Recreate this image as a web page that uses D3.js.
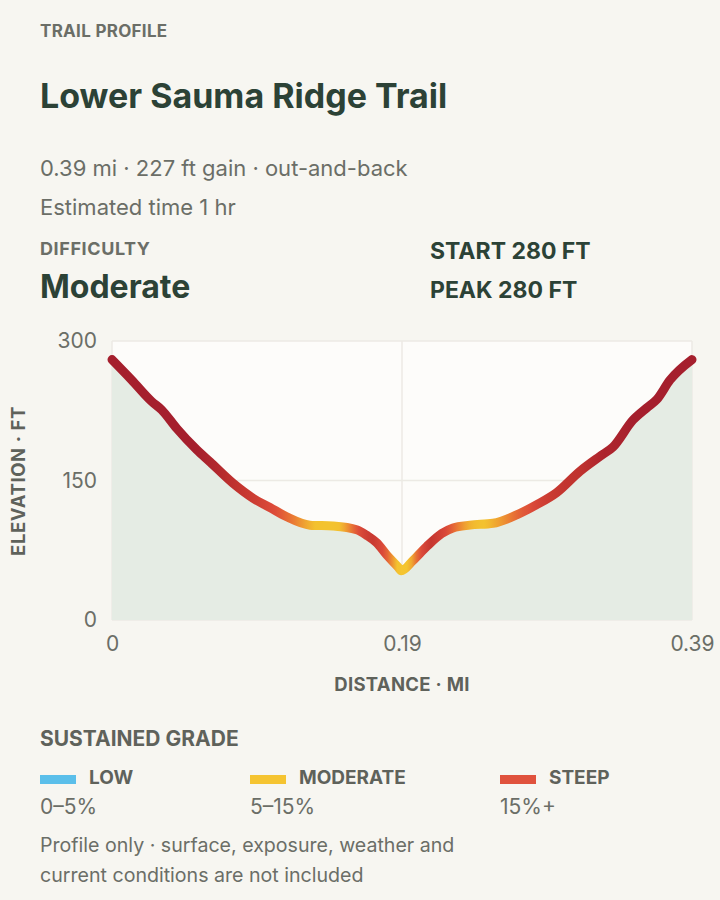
<!DOCTYPE html>
<html>
<head>
<meta charset="utf-8">
<script src="https://cdn.jsdelivr.net/npm/d3@7"></script>
<style>
  html, body { margin: 0; padding: 0; background: #f7f6f1; }
  svg { display: block; font-family: Inter, "Noto Sans", sans-serif; }
</style>
</head>
<body>
<svg id="chart" width="720" height="900"></svg>
<script>
// ---- data ----
const distMi = [0, 0.0133, 0.0267, 0.0334, 0.0435, 0.0570, 0.0659, 0.0814, 0.0948, 0.1062, 0.1175,
  0.1331, 0.1486, 0.1645, 0.1713, 0.1780, 0.1847, 0.1923, 0.1945, 0.2024, 0.2116, 0.2217, 0.2293,
  0.2407, 0.2562, 0.2721, 0.2856, 0.2990, 0.3147, 0.3281, 0.3369, 0.3503, 0.3595, 0.3663, 0.3752, 0.39];
const elevFt = [280, 258, 235, 226, 206, 183, 170, 147, 131, 121, 111,
  102, 101, 97, 91, 83, 70, 57, 53, 64, 79, 93, 99,
  102, 104, 113, 124, 137, 160, 176, 186, 215, 228, 237, 258, 280];
const yTicks = [0, 150, 300];
const xTicks = [0, 0.195, 0.39];
const xTickLabels = ["0", "0.19", "0.39"];
const gradeNames = ["LOW", "MODERATE", "STEEP"];
const gradeRanges = ["0–5%", "5–15%", "15%+"];
const gradeColors = ["#5bbfea", "#f5c431", "#e0523d"];

// ---- layout ----
const svg = d3.select("#chart");
const W = 720, H = 900;
const plot = { left: 112, right: 692, top: 341, bottom: 620 };
const ink = "#2c4236", gray = "#6b6e67", gray2 = "#5f625b";

svg.append("rect").attr("width", W).attr("height", H).attr("fill", "#f7f6f1");

const txt = (x, y, s, size, weight, fill, anchor, ls) =>
  svg.append("text").attr("x", x).attr("y", y).text(s)
    .attr("font-size", size).attr("font-weight", weight).attr("fill", fill)
    .attr("letter-spacing", ls || 0)
    .attr("text-anchor", anchor || "start");

txt(40, 37, "TRAIL PROFILE", 17, 700, gray, "start", 0.3);
txt(40, 108, "Lower Sauma Ridge Trail", 34, 700, ink);
txt(40, 176, "0.39 mi · 227 ft gain · out-and-back", 22, 400, gray);
txt(40, 215, "Estimated time 1 hr", 22, 400, gray);
txt(40, 255, "DIFFICULTY", 18, 700, gray, "start", 0.6);
txt(40, 298, "Moderate", 32, 700, ink);
txt(430, 259, "START 280 FT", 23, 700, ink);
txt(430, 298, "PEAK 280 FT", 23, 700, ink);

// ---- scales ----
const maxD = d3.max(distMi);
const x = d3.scaleLinear().domain([0, maxD]).range([plot.left, plot.right]);
const y = d3.scaleLinear().domain([0, 300]).range([plot.bottom, plot.top]);
const pts = distMi.map((d, i) => ({ d, e: elevFt[i] }));

svg.append("rect").attr("x", plot.left).attr("y", plot.top)
  .attr("width", plot.right - plot.left).attr("height", plot.bottom - plot.top)
  .attr("fill", "#fdfcfa");

svg.append("g").selectAll("line").data(yTicks).join("line")
  .attr("x1", plot.left).attr("x2", plot.right)
  .attr("y1", d => y(d)).attr("y2", d => y(d))
  .attr("stroke", "#eceae4").attr("stroke-width", 1.5);
svg.append("g").selectAll("line").data(xTicks).join("line")
  .attr("y1", plot.top).attr("y2", plot.bottom)
  .attr("x1", d => x(d)).attr("x2", d => x(d))
  .attr("stroke", "#eceae4").attr("stroke-width", 1.5);

const area = d3.area().x(p => x(p.d)).y0(y(0)).y1(p => y(p.e)).curve(d3.curveMonotoneX);
svg.append("path").datum(pts).attr("d", area).attr("fill", "#e5ece4");

// sustained grade: elevation change over a ±window (mi) around each position
const elevAt = d3.scaleLinear().domain(distMi).range(elevFt);
const win = 0.02;
const sustainedGrade = d => {
  const a = Math.max(0, d - win), b = Math.min(maxD, d + win);
  return Math.abs(elevAt(b) - elevAt(a)) / ((b - a) * 5280);
};
const gradeColor = d3.scaleLinear()
  .domain([0, 0.06, 0.11, 0.16, 0.23, 0.31])
  .range(["#f5c631", "#f3c22f", "#ea7a34", "#dc4a3a", "#c3352f", "#a51f2d"])
  .clamp(true);

const stops = d3.range(0, 121).map(i => maxD * i / 120);
const grad = svg.append("defs").append("linearGradient").attr("id", "gradeGrad")
  .attr("gradientUnits", "userSpaceOnUse")
  .attr("x1", x(0)).attr("x2", x(maxD)).attr("y1", 0).attr("y2", 0);
grad.selectAll("stop").data(stops).join("stop")
  .attr("offset", d => d / maxD)
  .attr("stop-color", d => gradeColor(sustainedGrade(d)));

const line = d3.line().x(p => x(p.d)).y(p => y(p.e)).curve(d3.curveMonotoneX);
svg.append("path").datum(pts).attr("d", line)
  .attr("fill", "none").attr("stroke", "url(#gradeGrad)")
  .attr("stroke-width", 9).attr("stroke-linecap", "round").attr("stroke-linejoin", "round");

// axes
const yAxis = d3.axisLeft(y).tickValues(yTicks).tickSize(0).tickPadding(15);
const gy = svg.append("g").attr("transform", `translate(${plot.left},0)`).call(yAxis);
gy.select(".domain").remove();
gy.selectAll("text").attr("font-size", 21).attr("fill", gray).attr("font-family", "Inter, sans-serif");

const xAxis = d3.axisBottom(x).tickValues(xTicks).tickFormat((d, i) => xTickLabels[i]).tickSize(0).tickPadding(16);
const gx = svg.append("g").attr("transform", `translate(0,${plot.bottom})`).call(xAxis);
gx.select(".domain").remove();
gx.selectAll("text").attr("font-size", 21).attr("fill", gray).attr("font-family", "Inter, sans-serif");

txt((plot.left + plot.right) / 2, 691, "DISTANCE · MI", 18.5, 700, gray2, "middle", 0.3);
svg.append("text").attr("transform", "translate(25,481) rotate(-90)")
  .attr("text-anchor", "middle").attr("font-size", 18.5).attr("font-weight", 700)
  .attr("letter-spacing", 0.6)
  .attr("fill", gray2).text("ELEVATION · FT");

// legend
txt(40, 746, "SUSTAINED GRADE", 21, 700, gray2);
const legendX = [40, 250, 500];
const lg = svg.append("g").selectAll("g").data(gradeNames).join("g")
  .attr("transform", (d, i) => `translate(${legendX[i]},0)`);
lg.append("rect").attr("x", 0).attr("y", 775).attr("width", 36).attr("height", 9)
  .attr("fill", (d, i) => gradeColors[i]);
lg.append("text").attr("x", 49).attr("y", 784).text(d => d)
  .attr("font-size", 19).attr("font-weight", 700).attr("fill", gray2);
lg.append("text").attr("x", 0).attr("y", 814).text((d, i) => gradeRanges[i])
  .attr("font-size", 21).attr("fill", gray);

txt(40, 852, "Profile only · surface, exposure, weather and", 19.6, 400, gray);
txt(40, 882, "current conditions are not included", 19.6, 400, gray);
</script>
</body>
</html>
